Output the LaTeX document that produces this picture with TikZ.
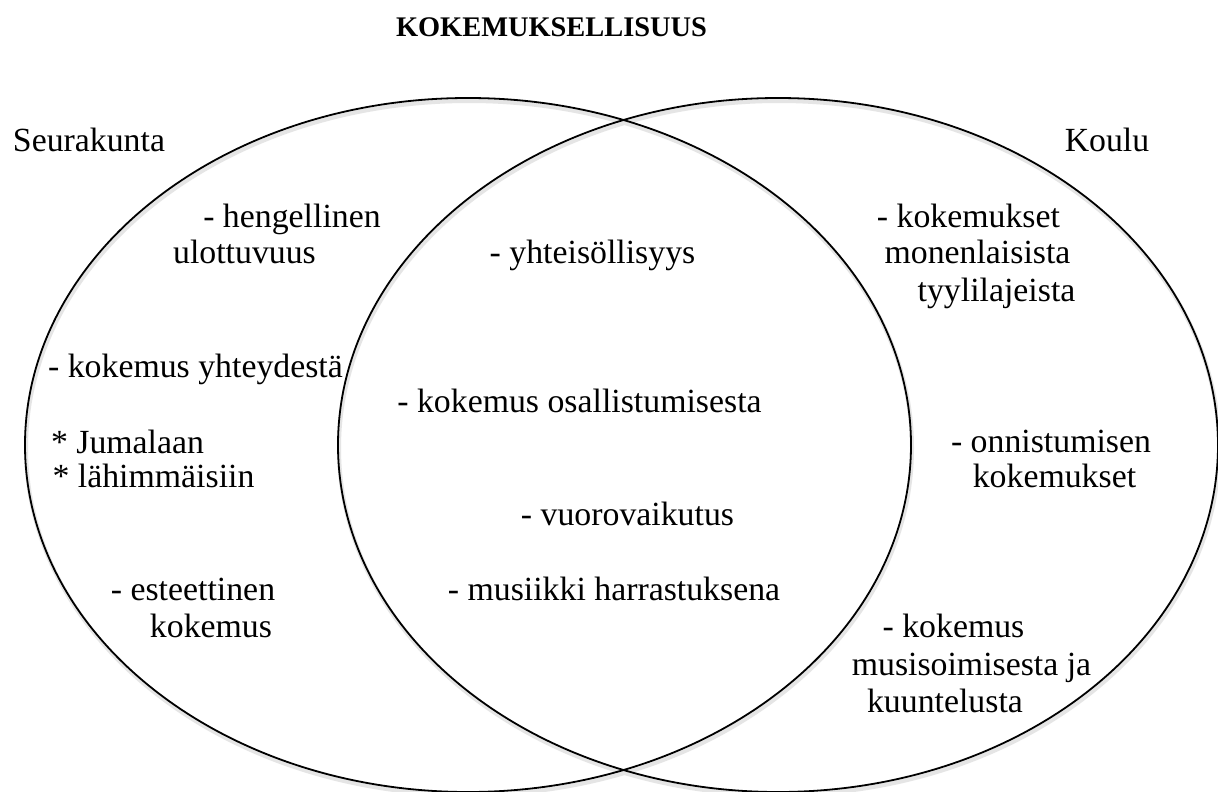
\documentclass[tikz,border=0pt]{standalone}
\usepackage{fontspec}
\setmainfont{Liberation Serif}
\begin{document}
\begin{tikzpicture}[x=1pt,y=-1pt,
  lbl/.style={anchor=base,inner sep=0pt,font=\fontsize{33.8}{37}\selectfont},
  ttl/.style={anchor=base,inner sep=0pt,font=\fontsize{28.4}{32}\selectfont\bfseries},
  venn/.style={draw=black,line width=1.8pt},
  vennshadow/.style={draw=black!10,line width=4pt}]
\useasboundingbox (0,0) rectangle (1218,792);
\fill[white] (0,0) rectangle (1218,792);
\begin{scope}
\clip (0,0) rectangle (1218,792);
\draw[vennshadow] (469,448) ellipse [x radius=443pt, y radius=347pt];
\draw[vennshadow] (779,448) ellipse [x radius=440pt, y radius=347pt];
\draw[venn] (468,445) ellipse [x radius=443pt, y radius=347pt];
\draw[venn] (778,445) ellipse [x radius=440pt, y radius=347pt];
\end{scope}
\node[ttl] (t) at (551.5,37) {KOKEMUKSELLISUUS};
\node[lbl] (seu) at (89,151) {Seurakunta};
\node[lbl] (kou) at (1107,151) {Koulu};
\node[lbl] (h1) at (292,227) {- hengellinen};
\node[lbl] (h2) at (244.5,263) {ulottuvuus};
\node[lbl] (yht) at (592.5,263) {- yhteisöllisyys};
\node[lbl] (km1) at (968.5,227) {- kokemukset};
\node[lbl] (km2) at (977.5,263) {monenlaisista};
\node[lbl] (km3) at (996.5,301) {tyylilajeista};
\node[lbl] (ky) at (195.5,377) {- kokemus yhteydestä};
\node[lbl] (ko) at (579.5,412) {- kokemus osallistumisesta};
\node[lbl] (jum) at (127.5,453) {* Jumalaan};
\node[lbl] (lah) at (153.5,487) {* lähimmäisiin};
\node[lbl] (on1) at (1051,452) {- onnistumisen};
\node[lbl] (on2) at (1054.5,487) {kokemukset};
\node[lbl] (vv) at (627.5,525) {- vuorovaikutus};
\node[lbl] (es1) at (193,600) {- esteettinen};
\node[lbl] (mh) at (614,600) {- musiikki harrastuksena};
\node[lbl] (es2) at (211,637) {kokemus};
\node[lbl] (kr1) at (953.5,637) {- kokemus};
\node[lbl] (kr2) at (971.5,675) {musisoimisesta ja};
\node[lbl] (kr3) at (945,712) {kuuntelusta};
\end{tikzpicture}
\end{document}
